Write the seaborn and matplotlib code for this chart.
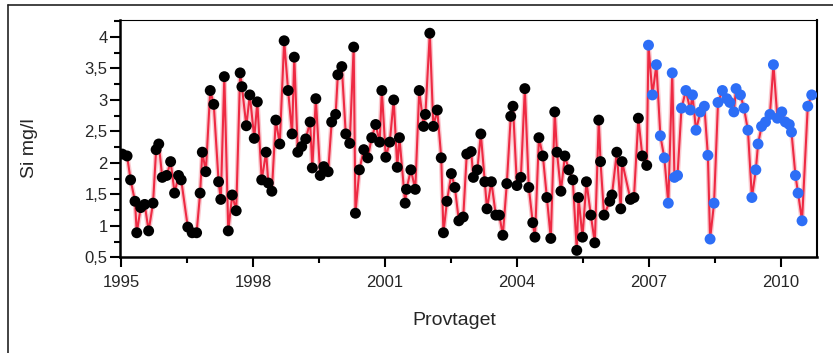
import pandas as pd
import numpy as np
import matplotlib
matplotlib.use("Agg")
import matplotlib.pyplot as plt
from matplotlib.lines import Line2D
from matplotlib.ticker import FuncFormatter, MultipleLocator
import seaborn as sns

# sampling dates (decimal years) and silicate values
years_old = [1995.03, 1995.14, 1995.22, 1995.32, 1995.36, 1995.45, 1995.54, 1995.63, 1995.73, 1995.80,
             1995.86, 1995.94, 1996.04, 1996.13, 1996.22, 1996.31, 1996.37, 1996.52, 1996.62, 1996.72,
             1996.80, 1996.85, 1996.93, 1997.03, 1997.11, 1997.22, 1997.27, 1997.35, 1997.44, 1997.53,
             1997.62, 1997.71, 1997.75, 1997.85, 1997.93, 1998.03, 1998.10, 1998.20, 1998.30, 1998.35,
             1998.43, 1998.52, 1998.61, 1998.71, 1998.80, 1998.89, 1998.94, 1999.02, 1999.11, 1999.20,
             1999.30, 1999.35, 1999.43, 1999.53, 1999.61, 1999.71, 1999.79, 1999.88, 1999.93, 2000.02,
             2000.11, 2000.20, 2000.29, 2000.33, 2000.42, 2000.52, 2000.61, 2000.70, 2000.79, 2000.88,
             2000.93, 2001.02, 2001.11, 2001.20, 2001.28, 2001.33, 2001.46, 2001.49, 2001.59, 2001.69,
             2001.78, 2001.88, 2001.92, 2002.02, 2002.10, 2002.19, 2002.28, 2002.33, 2002.41, 2002.51,
             2002.59, 2002.68, 2002.78, 2002.86, 2002.96, 2003.01, 2003.10, 2003.18, 2003.27, 2003.32,
             2003.42, 2003.52, 2003.60, 2003.68, 2003.77, 2003.86, 2003.91, 2004.00, 2004.09, 2004.18,
             2004.27, 2004.36, 2004.41, 2004.50, 2004.59, 2004.68, 2004.77, 2004.86, 2004.91, 2005.00,
             2005.09, 2005.18, 2005.27, 2005.36, 2005.40, 2005.49, 2005.58, 2005.68, 2005.77, 2005.86,
             2005.90, 2005.98, 2006.11, 2006.16, 2006.27, 2006.36, 2006.39, 2006.58, 2006.66, 2006.76,
             2006.85, 2006.95]
si_old = [2.14, 2.11, 1.73, 1.39, 0.89, 1.29, 1.34, 0.92, 1.36, 2.21,
          2.30, 1.77, 1.80, 2.02, 1.52, 1.80, 1.73, 0.98, 0.89, 0.89,
          1.52, 2.17, 1.86, 3.15, 2.93, 1.70, 1.42, 3.37, 0.92, 1.49,
          1.24, 3.43, 3.21, 2.59, 3.08, 2.39, 2.97, 1.73, 2.17, 1.68,
          1.55, 2.68, 2.30, 3.94, 3.15, 2.46, 3.68, 2.17, 2.26, 2.38,
          2.65, 1.92, 3.02, 1.80, 1.94, 1.86, 2.65, 2.77, 3.40, 3.53,
          2.46, 2.31, 3.84, 1.20, 1.89, 2.21, 2.08, 2.40, 2.61, 2.33,
          3.15, 2.09, 2.33, 3.00, 1.93, 2.40, 1.36, 1.58, 1.89, 1.58,
          3.15, 2.58, 2.77, 4.06, 2.58, 2.84, 2.08, 0.89, 1.39, 1.83,
          1.61, 1.08, 1.14, 2.14, 2.18, 1.77, 1.89, 2.46, 1.70, 1.27,
          1.70, 1.17, 1.17, 0.85, 1.67, 2.74, 2.90, 1.64, 1.77, 3.18,
          1.61, 1.05, 0.82, 2.40, 2.11, 1.45, 0.80, 2.81, 2.17, 1.55,
          2.11, 1.89, 1.73, 0.61, 1.45, 0.82, 1.70, 1.17, 0.73, 2.68,
          2.02, 1.17, 1.39, 1.49, 2.17, 1.27, 2.02, 1.42, 1.45, 2.71,
          2.11, 1.96]

years_new = [2006.99, 2007.08, 2007.17, 2007.26, 2007.35, 2007.44, 2007.53, 2007.58, 2007.65, 2007.74,
             2007.84, 2007.94, 2007.99, 2008.07, 2008.17, 2008.26, 2008.34, 2008.39, 2008.48, 2008.57,
             2008.67, 2008.77, 2008.84, 2008.93, 2008.98, 2009.08, 2009.16, 2009.25, 2009.34, 2009.43,
             2009.48, 2009.56, 2009.65, 2009.75, 2009.83, 2009.92, 2010.02, 2010.10, 2010.19, 2010.24,
             2010.33, 2010.39, 2010.48, 2010.61, 2010.70]
si_new = [3.87, 3.08, 3.56, 2.43, 2.08, 1.36, 3.43, 1.77, 1.80, 2.87,
          3.15, 2.84, 3.08, 2.52, 2.81, 2.90, 2.12, 0.79, 1.36, 2.96,
          3.15, 3.02, 2.96, 2.81, 3.18, 3.08, 2.87, 2.52, 1.45, 1.89,
          2.30, 2.58, 2.65, 2.77, 3.56, 2.71, 2.81, 2.65, 2.61, 2.49,
          1.80, 1.52, 1.08, 2.90, 3.08]

x_ticks = [1995, 1998, 2001, 2004, 2007, 2010]

df = pd.DataFrame({
    "year": years_old + years_new,
    "si": si_old + si_new,
    "group": ["old"] * len(years_old) + ["new"] * len(years_new),
})

sns.set_style("ticks")
plt.rcParams["font.family"] = ["Liberation Sans", "DejaVu Sans"]

fig = plt.figure(figsize=(8.33, 3.53), dpi=100)
ax = fig.add_axes([0.1441, 0.2711, 0.8367, 0.6722])

red = "#ee2a43"
# soft halo under the line, then the line itself
sns.lineplot(data=df, x="year", y="si", ax=ax, color=red, lw=3.5, alpha=0.25, sort=False)
sns.lineplot(data=df, x="year", y="si", ax=ax, color=red, lw=1.5, sort=False)
sns.scatterplot(data=df, x="year", y="si", hue="group", ax=ax,
                palette={"old": "black", "new": "#2d6ef6"}, s=62, linewidth=0,
                legend=False, zorder=3)

ax.set_xlim(1994.98, 2010.82)
ax.set_ylim(0.5, 4.27)
ax.set_xticks(x_ticks)
ax.xaxis.set_minor_locator(MultipleLocator(1.5))
ax.yaxis.set_major_locator(MultipleLocator(0.5))
ax.yaxis.set_minor_locator(MultipleLocator(0.25))
ax.yaxis.set_major_formatter(FuncFormatter(lambda v, p: f"{v:g}".replace(".", ",")))

ax.tick_params(which="major", length=7.5, width=1.5, labelsize=12, color="black")
ax.tick_params(which="minor", length=4.5, width=1.5, color="black")
ax.tick_params(axis="y", pad=1.5)
ax.tick_params(axis="x", pad=5)

for side, lw in [("left", 1.8), ("bottom", 1.8), ("right", 1.5), ("top", 0.8)]:
    ax.spines[side].set_linewidth(lw)
    ax.spines[side].set_color("black")

ax.set_xlabel("Provtaget", fontsize=14)
ax.set_ylabel("Si mg/l", fontsize=14)
ax.xaxis.set_label_coords(0.479, -0.232)
ax.yaxis.set_label_coords(-0.118, 0.458)

# outer frame, cut off at right and bottom
fig.add_artist(Line2D([8 / 833, 8 / 833], [0, 1 - 4.5 / 353], transform=fig.transFigure,
                      color="#222222", lw=1.2))
fig.add_artist(Line2D([8 / 833, 1], [1 - 4.5 / 353, 1 - 4.5 / 353], transform=fig.transFigure,
                      color="#222222", lw=1.2))

fig.savefig("out.png", dpi=100)
